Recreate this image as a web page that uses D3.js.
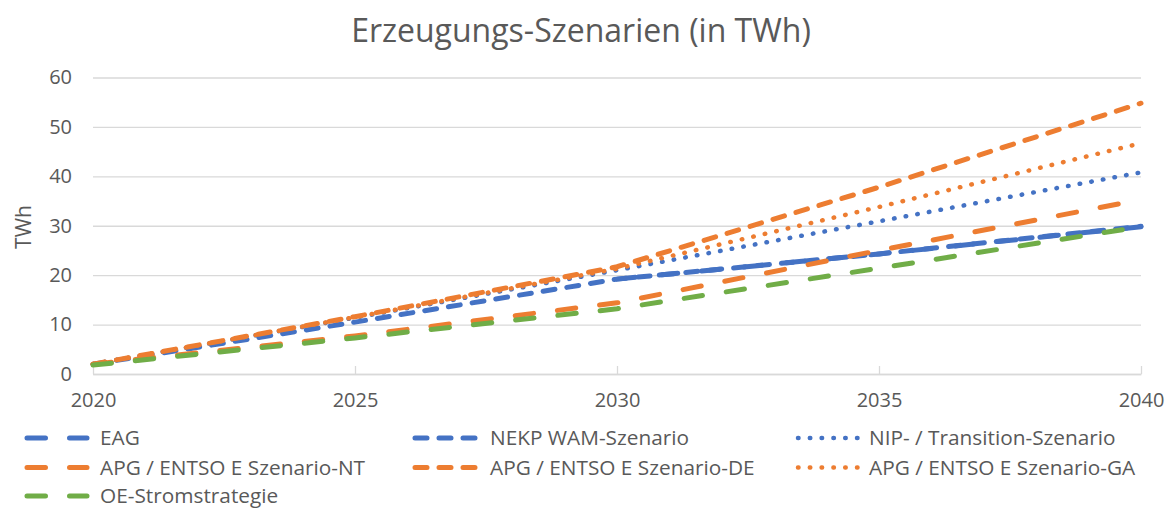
<!DOCTYPE html>
<html>
<head>
<meta charset="utf-8">
<script src="https://cdn.jsdelivr.net/npm/d3@7"></script>
<style>
body { margin: 0; background: white; }
text { font-family: "Open Sans", "Noto Sans", sans-serif; fill: #595959; }
</style>
</head>
<body>
<div id="container"></div>
<script>
const years = [2020, 2025, 2030, 2035, 2040];
const eag = [null, null, 19.2, 24.3, 29.8];
const nekp = [2, 10.5, 19.2, 24.3, 29.9];
const nip = [2, 11.4, 21, 30.9, 40.8];
const apgNT = [2, 7.7, 14.4, 25, 35.3];
const apgDE = [2, 11.6, 21.7, 37.8, 54.8];
const apgGA = [2, 11.5, 21.3, 33.8, 46.7];
const oe = [1.8, 7.3, 13.2, 21.4, 29.8];
const names = ["EAG", "NEKP WAM-Szenario", "NIP- / Transition-Szenario", "APG / ENTSO E Szenario-NT", "APG / ENTSO E Szenario-DE", "APG / ENTSO E Szenario-GA", "OE-Stromstrategie"];
const xTicks = [2020, 2025, 2030, 2035, 2040];
const yTicks = [0, 10, 20, 30, 40, 50, 60];

const w = 1175; // canvas width
const h = 508; // canvas height
const pLeft = 93, pRight = 1141, pTop = 77.5, pBottom = 374; // plot area

const blue = "#4472C4", orange = "#ED7D31", green = "#70AD47";
const longDash = "18.5 24", dash = "12 12", dot = "0.5 11.3";

// one style per series, same order as names
const series = [
	{ v: eag, c: blue, d: longDash, wd: 5 },
	{ v: nekp, c: blue, d: dash, wd: 5 },
	{ v: nip, c: blue, d: dot, wd: 4.5 },
	{ v: apgNT, c: orange, d: longDash, wd: 5 },
	{ v: apgDE, c: orange, d: dash, wd: 5 },
	{ v: apgGA, c: orange, d: dot, wd: 4.5 },
	{ v: oe, c: green, d: longDash, wd: 5 }
];

const svg = d3.select("#container").append("svg").attr("width", w).attr("height", h);

const xScale = d3.scaleLinear().domain([2020, 2040]).range([pLeft, pRight]);
const yScale = d3.scaleLinear().domain([0, 60]).range([pBottom, pTop]);

// gridlines + y labels
const yAxis = d3.axisLeft(yScale).tickValues(yTicks).tickSize(-(pRight - pLeft)).tickPadding(21);
const gy = svg.append("g").attr("transform", `translate(${pLeft}, 0)`).call(yAxis);
gy.select(".domain").remove();
gy.selectAll("line").attr("stroke", "#d9d9d9").attr("stroke-width", 1.3);
gy.selectAll("text").style("font-size", "20px").attr("fill", "#595959");

// x axis
const xAxis = d3.axisBottom(xScale).tickValues(xTicks).tickFormat(d3.format("d")).tickSizeInner(-8).tickSizeOuter(0).tickPadding(19);
const gx = svg.append("g").attr("transform", `translate(0, ${pBottom})`).call(xAxis);
gx.select(".domain").attr("stroke", "#d9d9d9").attr("stroke-width", 1.3);
gx.selectAll("line").attr("stroke", "#d9d9d9").attr("stroke-width", 1.3);
gx.selectAll("text").style("font-size", "20px").attr("fill", "#595959");

const line = d3.line().defined(d => d !== null).x((d, i) => xScale(years[i])).y(d => yScale(d));

series.forEach(s => {
	svg.append("path").datum(s.v).attr("d", line).attr("fill", "none")
		.attr("stroke", s.c).attr("stroke-width", s.wd).attr("stroke-dasharray", s.d)
		.attr("stroke-linecap", "round").attr("stroke-linejoin", "round");
});

// title
svg.append("text").attr("x", 581).attr("y", 42).attr("text-anchor", "middle").style("font-size", "32px").text("Erzeugungs-Szenarien (in TWh)");

// y axis title
svg.append("text").attr("transform", "translate(31, 227) rotate(-90)").attr("text-anchor", "middle").style("font-size", "21px").text("TWh");

// legend, 3 columns
const swatchX = [25, 413, 796];
const labelX = [100, 490, 869];
const rowY = [438, 467.5, 496];
series.forEach((s, i) => {
	const c = i % 3, y = rowY[Math.floor(i / 3)];
	svg.append("line").attr("x1", swatchX[c] + 2).attr("x2", swatchX[c] + 62).attr("y1", y).attr("y2", y)
		.attr("stroke", s.c).attr("stroke-width", s.wd).attr("stroke-dasharray", s.d).attr("stroke-linecap", "round");
	svg.append("text").attr("x", labelX[c]).attr("y", y + 7).style("font-size", "20.8px").text(names[i]);
});
</script>
</body>
</html>
